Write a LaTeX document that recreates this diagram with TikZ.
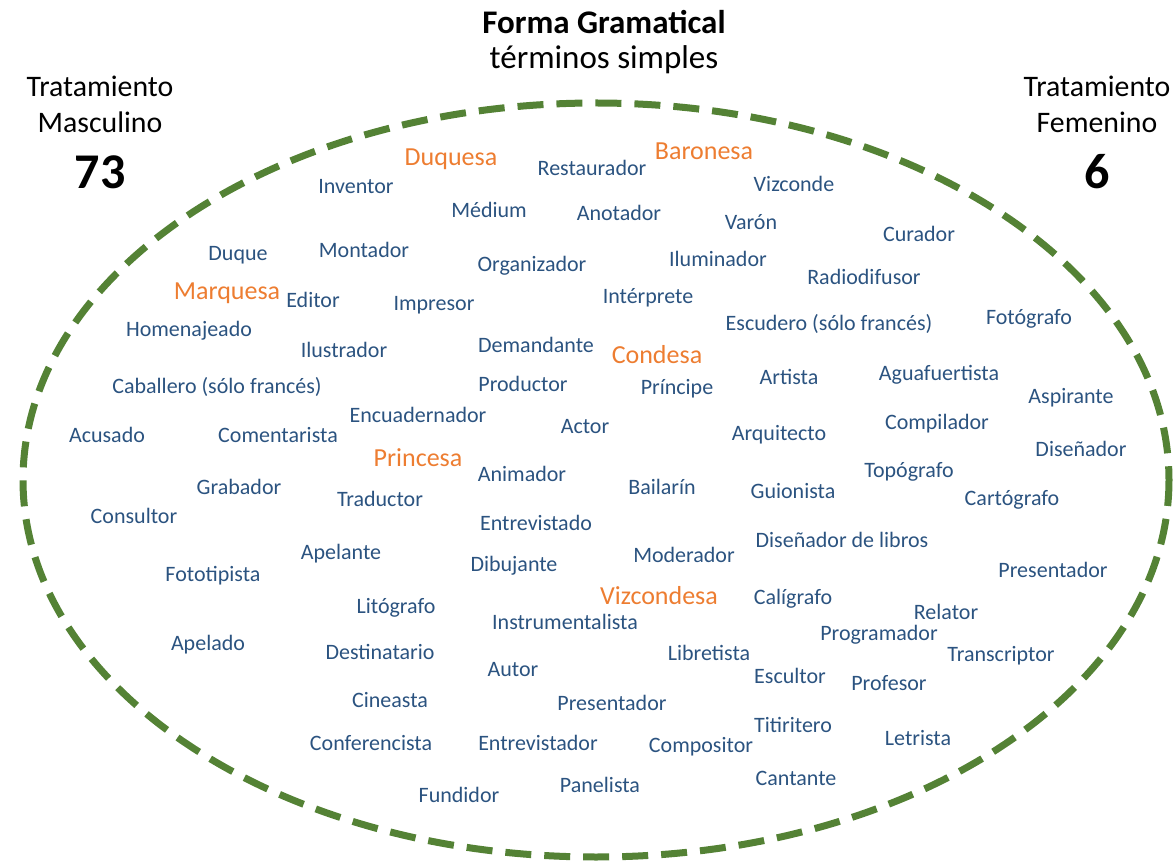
\documentclass[tikz,border=0pt]{standalone}
\usepackage{fontspec}
\setmainfont{Carlito}
\definecolor{wblue}{HTML}{2B5380}
\definecolor{worange}{HTML}{ED7D31}
\definecolor{egreen}{HTML}{548235}
\begin{document}
\begin{tikzpicture}[x=1pt,y=-1pt,
  w/.style={text=wblue,font=\fontsize{22}{25}\selectfont,inner sep=0pt,anchor=center},
  o/.style={text=worange,font=\fontsize{26}{29}\selectfont,inner sep=0pt,anchor=center},
  hd/.style={text=black,font=\fontsize{29.8}{33}\selectfont,inner sep=0pt,anchor=center}]
\useasboundingbox (0,0) rectangle (1176,866);
\draw[egreen,line width=7pt,dash pattern=on 26pt off 13pt] (596,480) ellipse [x radius=573, y radius=377];
\node[text=black,font=\fontsize{33}{38}\selectfont\bfseries,inner sep=0pt] (t1) at (604,22) {Forma Gramatical};
\node[text=black,font=\fontsize{33}{38}\selectfont,inner sep=0pt] (t2) at (604,60) {términos simples};
\node[hd] (lm1) at (100,86) {Tratamiento};
\node[hd] (lm2) at (100,122) {Masculino};
\node[text=black,font=\fontsize{50}{56}\selectfont\bfseries,inner sep=0pt] (lmn) at (100,172) {73};
\node[hd] (rf1) at (1097,86) {Tratamiento};
\node[hd] (rf2) at (1097,122) {Femenino};
\node[text=black,font=\fontsize{50}{56}\selectfont\bfseries,inner sep=0pt] (rfn) at (1097,172) {6};
% orange
\node[o] (o1) at (451,159) {Duquesa};
\node[o] (o2) at (704,151) {Baronesa};
\node[o] (o3) at (227,293) {Marquesa};
\node[o] (o4) at (657,355) {Condesa};
\node[o] (o5) at (418,458) {Princesa};
\node[o] (o6) at (659,596) {Vizcondesa};
% blue
\node[w] (b1) at (592,168) {Restaurador};
\node[w] (b2) at (356,187) {Inventor};
\node[w] (b3) at (794,184) {Vizconde};
\node[w] (b4) at (489,210) {Médium};
\node[w] (b5) at (619,213) {Anotador};
\node[w] (b6) at (751,222) {Varón};
\node[w] (b7) at (919,234) {Curador};
\node[w] (b8) at (238,255) {Duque};
\node[w] (b9) at (364,250) {Montador};
\node[w] (b10) at (532,266) {Organizador};
\node[w] (b11) at (718,259) {Iluminador};
\node[w] (b12) at (864,277) {Radiodifusor};
\node[w] (b13) at (313,300) {Editor};
\node[w] (b14) at (434,305) {Impresor};
\node[w] (b15) at (648,298) {Intérprete};
\node[w] (b16) at (1029,319) {Fotógrafo};
\node[w] (b17) at (189,331) {Homenajeado};
\node[w] (b18) at (829,324) {Escudero (sólo francés)};
\node[w] (b19) at (344,350) {Ilustrador};
\node[w] (b20) at (536,345) {Demandante};
\node[w] (b21) at (217,387) {Caballero (sólo francés)};
\node[w] (b22) at (523,384) {Productor};
\node[w] (b23) at (677,389) {Príncipe};
\node[w] (b24) at (789,377) {Artista};
\node[w] (b25) at (939,375) {Aguafuertista};
\node[w] (b26) at (1071,398) {Aspirante};
\node[w] (b27) at (418,415) {Encuadernador};
\node[w] (b28) at (107,435) {Acusado};
\node[w] (b29) at (278,435) {Comentarista};
\node[w] (b30) at (585,427) {Actor};
\node[w] (b31) at (779,435) {Arquitecto};
\node[w] (b32) at (937,424) {Compilador};
\node[w] (b33) at (1081,449) {Diseñador};
\node[w] (b34) at (522,474) {Animador};
\node[w] (b35) at (909,472) {Topógrafo};
\node[w] (b36) at (239,487) {Grabador};
\node[w] (b37) at (380,499) {Traductor};
\node[w] (b38) at (662,487) {Bailarín};
\node[w] (b39) at (793,491) {Guionista};
\node[w] (b40) at (1012,500) {Cartógrafo};
\node[w] (b41) at (134,516) {Consultor};
\node[w] (b42) at (536,523) {Entrevistado};
\node[w] (b43) at (341,554) {Apelante};
\node[w] (b44) at (684,555) {Moderador};
\node[w] (b45) at (842,540) {Diseñador de libros};
\node[w] (b46) at (514,566) {Dibujante};
\node[w] (b47) at (213,576) {Fototipista};
\node[w] (b48) at (1053,570) {Presentador};
\node[w] (b49) at (396,608) {Litógrafo};
\node[w] (b50) at (793,599) {Calígrafo};
\node[w] (b51) at (946,612) {Relator};
\node[w] (b52) at (565,622) {Instrumentalista};
\node[w] (b53) at (879,635) {Programador};
\node[w] (b54) at (208,645) {Apelado};
\node[w] (b55) at (380,652) {Destinatario};
\node[w] (b56) at (709,653) {Libretista};
\node[w] (b57) at (1001,656) {Transcriptor};
\node[w] (b58) at (513,670) {Autor};
\node[w] (b59) at (790,676) {Escultor};
\node[w] (b60) at (889,683) {Profesor};
\node[w] (b61) at (390,700) {Cineasta};
\node[w] (b62) at (612,703) {Presentador};
\node[w] (b63) at (793,725) {Titiritero};
\node[w] (b64) at (371,743) {Conferencista};
\node[w] (b65) at (538,743) {Entrevistador};
\node[w] (b66) at (701,747) {Compositor};
\node[w] (b67) at (918,738) {Letrista};
\node[w] (b68) at (796,778) {Cantante};
\node[w] (b69) at (600,785) {Panelista};
\node[w] (b70) at (459,795) {Fundidor};
\end{tikzpicture}
\end{document}
